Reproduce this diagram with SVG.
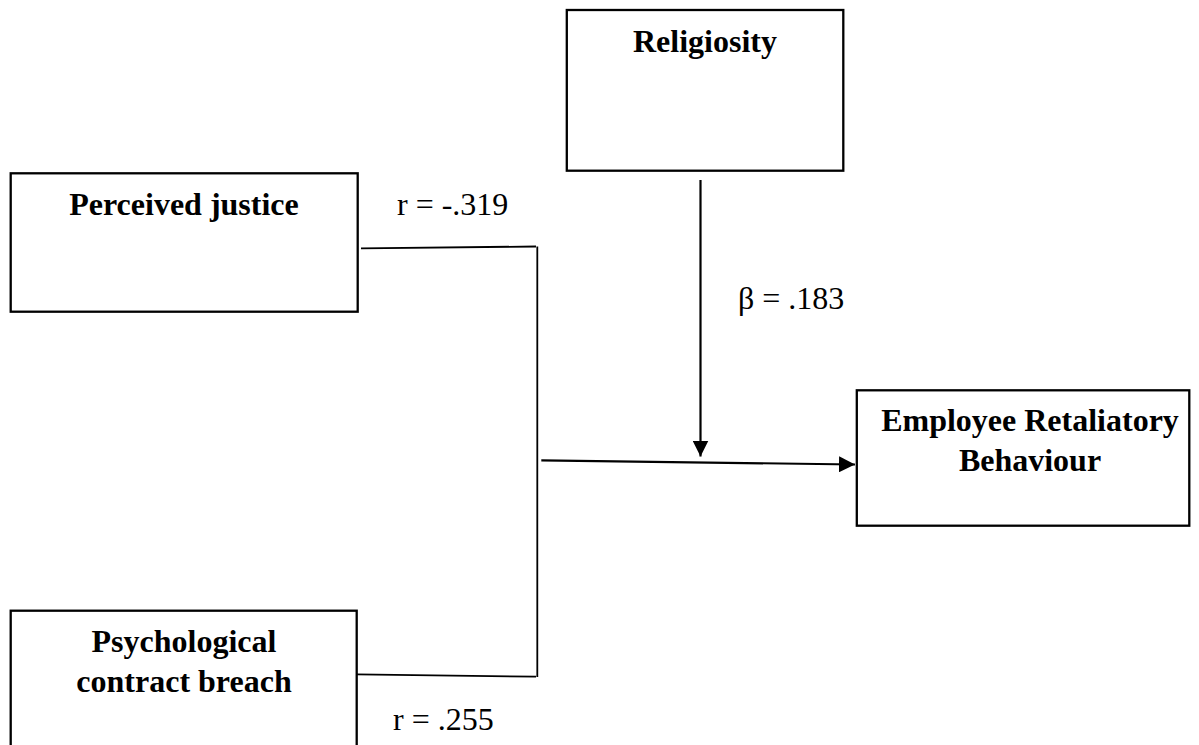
<svg xmlns="http://www.w3.org/2000/svg" width="1199" height="745" viewBox="0 0 1199 745">
<style>
.box{fill:#fff;stroke:#000;stroke-width:2.3}
.lbl{font-family:"Liberation Serif","Times New Roman",serif;font-size:32px;font-weight:bold;fill:#000;text-anchor:middle}
.val{font-family:"Liberation Serif","Times New Roman",serif;font-size:32px;fill:#000}
.ln{fill:none;stroke:#000;stroke-width:1.8}
.ar{fill:none;stroke:#000;stroke-width:2.2}
</style>
<defs>
<marker id="ah" viewBox="0 0 16 16" refX="16" refY="8" markerWidth="16" markerHeight="16" markerUnits="userSpaceOnUse" orient="auto">
<path d="M0,0 L16,8 L0,16 Z" fill="#000"/>
</marker>
</defs>
<rect width="1199" height="745" fill="#fff"/>
<g id="religiosity">
<rect class="box" x="566.8" y="10" width="276.5" height="160.7"/>
<text class="lbl" x="705" y="52">Religiosity</text>
</g>
<g id="perceived-justice">
<rect class="box" x="10.7" y="173.3" width="347" height="138.4"/>
<text class="lbl" x="184" y="215">Perceived justice</text>
</g>
<g id="psychological-contract-breach">
<rect class="box" x="10.7" y="610.7" width="346" height="160"/>
<text class="lbl" x="184" y="652">Psychological</text>
<text class="lbl" x="184" y="692">contract breach</text>
</g>
<g id="employee-retaliatory-behaviour">
<rect class="box" x="856.8" y="390.3" width="332.5" height="135.4"/>
<text class="lbl" x="1030" y="431">Employee Retaliatory</text>
<text class="lbl" x="1030" y="471">Behaviour</text>
</g>
<g id="connectors">
<path class="ln" d="M361,248.3 L536,246.5"/>
<path class="ln" d="M537.3,246.5 L537.3,677"/>
<path class="ln" d="M356.5,674.3 L536,676.7"/>
<path class="ar" d="M541.3,460.3 L855,464.5" marker-end="url(#ah)"/>
<path class="ar" d="M700.5,180 L700.5,456.5" marker-end="url(#ah)"/>
</g>
<g id="labels">
<text class="val" x="397" y="215">r = -.319</text>
<text class="val" x="738" y="309">β = .183</text>
<text class="val" x="393" y="730">r = .255</text>
</g>
</svg>
